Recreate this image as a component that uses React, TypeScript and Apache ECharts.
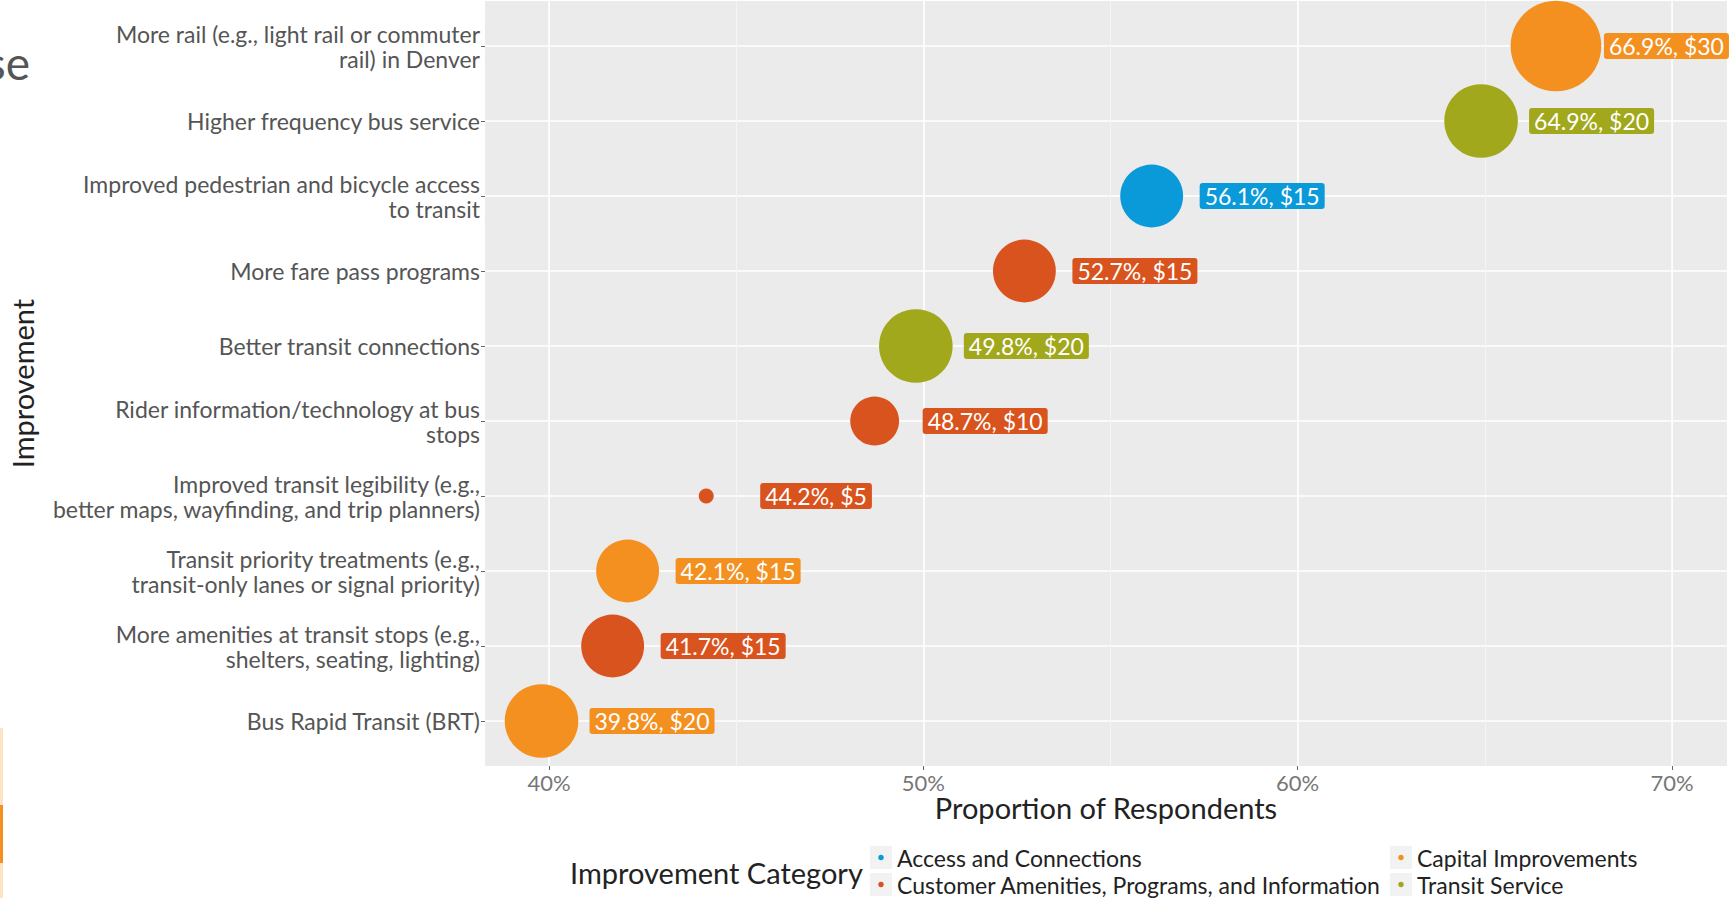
import React, { useEffect, useRef } from "react";
import * as echarts from "echarts";

const improvements = [
  "More rail (e.g., light rail or commuter\nrail) in Denver",
  "Higher frequency bus service",
  "Improved pedestrian and bicycle access\nto transit",
  "More fare pass programs",
  "Better transit connections",
  "Rider information/technology at bus\nstops",
  "Improved transit legibility (e.g.,\nbetter maps, wayfinding, and trip planners)",
  "Transit priority treatments (e.g.,\ntransit-only lanes or signal priority)",
  "More amenities at transit stops (e.g.,\nshelters, seating, lighting)",
  "Bus Rapid Transit (BRT)",
];
const proportions = [66.9, 64.9, 56.1, 52.7, 49.8, 48.7, 44.2, 42.1, 41.7, 39.8];
const costs = [30, 20, 15, 15, 20, 10, 5, 15, 15, 20];
const itemCategories = [
  "Capital Improvements",
  "Transit Service",
  "Access and Connections",
  "Customer Amenities, Programs, and Information",
  "Transit Service",
  "Customer Amenities, Programs, and Information",
  "Customer Amenities, Programs, and Information",
  "Capital Improvements",
  "Customer Amenities, Programs, and Information",
  "Capital Improvements",
];
const categoryNames = [
  "Access and Connections",
  "Capital Improvements",
  "Customer Amenities, Programs, and Information",
  "Transit Service",
];
const categoryColors = ["#0A9ADA", "#F3901F", "#D9531E", "#A1A81B"];

const FONT = "Lato, 'Open Sans', sans-serif";
const X_MIN = 38.29;
const X_MAX = 71.47;
const PLOT_LEFT = 485;
const PLOT_RIGHT = 1727;
const PLOT_TOP = 1;
const PLOT_BOTTOM = 766;
const BAND = (PLOT_BOTTOM - PLOT_TOP) / (improvements.length - 1 + 1.2);

function bubbleSize(cost: number) {
  const lo = Math.min(...costs);
  const hi = Math.max(...costs);
  return 15 + 75.7 * Math.sqrt((cost - lo) / (hi - lo));
}

function keyIcon(color: string) {
  const svg = `<svg xmlns="http://www.w3.org/2000/svg" width="22" height="23" viewBox="0 0 22 23"><rect width="22" height="23" fill="#F2F2F2"/><circle cx="11" cy="11.5" r="2.7" fill="${color}"/></svg>`;
  return "image://data:image/svg+xml;charset=utf-8," + encodeURIComponent(svg);
}

export default function App() {
  const ref = useRef<HTMLDivElement>(null);
  useEffect(() => {
    if (!ref.current) return;
    const chart = echarts.init(ref.current, undefined, { renderer: "svg" });
    const series = categoryNames.map((name, ci) => ({
      type: "scatter",
      name,
      xAxisIndex: 2,
      yAxisIndex: 1,
      data: improvements
        .map((imp, i) => ({ i, imp }))
        .filter(({ i }) => itemCategories[i] === name)
        .map(({ i, imp }) => ({
          value: [proportions[i], imp, costs[i]],
          label: { offset: [bubbleSize(costs[i]) < 20 ? 54 : 48, 0] },
        })),
      symbolSize: (val: any) => bubbleSize(val[2]),
      itemStyle: { color: categoryColors[ci], opacity: 1 },
      label: {
        show: true,
        position: "inside",
        align: "left",
        verticalAlign: "middle",
        offset: [48, 0],
        formatter: (p: any) => `${p.value[0].toFixed(1)}%, $${p.value[2]}`,
        color: "#fff",
        fontFamily: FONT,
        fontSize: 23,
        backgroundColor: categoryColors[ci],
        padding: [2, 5, 1, 5],
        borderRadius: 3,
      },
      emphasis: { disabled: true },
    }));

    chart.setOption({
      animation: false,
      textStyle: { fontFamily: FONT },
      grid: [
        {
          left: PLOT_LEFT,
          top: PLOT_TOP,
          width: PLOT_RIGHT - PLOT_LEFT,
          height: PLOT_BOTTOM - PLOT_TOP,
          show: true,
          backgroundColor: "#EBEBEB",
          borderWidth: 0,
        },
        {
          left: PLOT_LEFT,
          top: PLOT_TOP + 0.6 * BAND,
          width: PLOT_RIGHT - PLOT_LEFT,
          height: (improvements.length - 1) * BAND,
          show: false,
        },
      ],
      xAxis: [
        {
          type: "value",
          gridIndex: 0,
          position: "bottom",
          min: X_MIN,
          max: X_MAX,
          minInterval: 10,
          maxInterval: 10,
          z: 2,
          axisLine: { show: false },
          axisTick: { show: true, length: 4, lineStyle: { color: "#666", width: 1 } },
          axisLabel: {
            formatter: "{value}%",
            fontSize: 22,
            color: "#777",
            margin: 5,
            showMinLabel: false,
            showMaxLabel: false,
          },
          splitLine: {
            show: true,
            showMinLine: false,
            showMaxLine: false,
            lineStyle: { color: "#FFFFFF", width: 1.5 },
          },
          name: "Proportion of Respondents",
          nameLocation: "middle",
          nameGap: 27,
          nameMoveOverlap: false,
          nameTextStyle: { fontSize: 29, color: "#222", fontFamily: FONT },
        },
        {
          type: "value",
          gridIndex: 0,
          position: "top",
          min: X_MIN,
          max: X_MAX,
          minInterval: 5,
          maxInterval: 5,
          z: 1,
          axisLine: { show: false },
          axisTick: { show: false },
          axisLabel: { show: false },
          splitLine: {
            show: true,
            showMinLine: false,
            showMaxLine: false,
            lineStyle: { color: "#F5F5F5", width: 1 },
          },
        },
        {
          type: "value",
          gridIndex: 1,
          min: X_MIN,
          max: X_MAX,
          show: false,
          splitLine: { show: false },
        },
      ],
      yAxis: [
        { type: "value", gridIndex: 0, show: false, splitLine: { show: false } },
        {
          type: "category",
          gridIndex: 1,
          data: improvements,
          inverse: true,
          boundaryGap: false,
          axisLine: { show: false },
          axisTick: { show: true, length: 4, lineStyle: { color: "#666", width: 1 } },
          axisLabel: {
            interval: 0,
            fontSize: 23,
            color: "#555",
            lineHeight: 25,
            margin: 5,
            align: "right",
          },
          splitLine: { show: true, lineStyle: { color: "#FFFFFF", width: 1.5 } },
          name: "Improvement",
          nameLocation: "middle",
          nameGap: 448,
          nameMoveOverlap: false,
          nameTextStyle: { fontSize: 29, color: "#222", fontFamily: FONT },
        },
      ],
      legend: {
        left: 870,
        top: 846,
        width: 1045,
        padding: 0,
        orient: "horizontal",
        itemWidth: 22,
        itemHeight: 23,
        itemGap: 4,
        selectedMode: false,
        textStyle: {
          fontSize: 23,
          color: "#222",
          fontFamily: FONT,
          width: 489,
          overflow: "none",
          lineHeight: 23,
        },
        data: categoryNames.map((n, i) => ({ name: n, icon: keyIcon(categoryColors[i]) })),
      },
      graphic: [
        {
          type: "text",
          x: 570,
          y: 872,
          silent: true,
          style: {
            text: "Improvement Category",
            font: `29px ${FONT}`,
            fill: "#222",
            textAlign: "left",
            textVerticalAlign: "middle",
          },
        },
        {
          type: "text",
          x: 30,
          y: 62,
          silent: true,
          style: {
            text: "se",
            font: `46px ${FONT}`,
            fill: "#555",
            textAlign: "right",
            textVerticalAlign: "middle",
          },
        },
        { type: "rect", silent: true, shape: { x: 0, y: 728, width: 3, height: 170 }, style: { fill: "#FDE2C6" } },
        { type: "rect", silent: true, shape: { x: 0, y: 805, width: 3, height: 58 }, style: { fill: "#F3901F" } },
      ],
      series,
    });
    return () => chart.dispose();
  }, []);
  return (
    <div
      ref={ref}
      style={{ position: "fixed", left: 0, top: 0, width: 1731, height: 898, background: "#fff" }}
    />
  );
}
